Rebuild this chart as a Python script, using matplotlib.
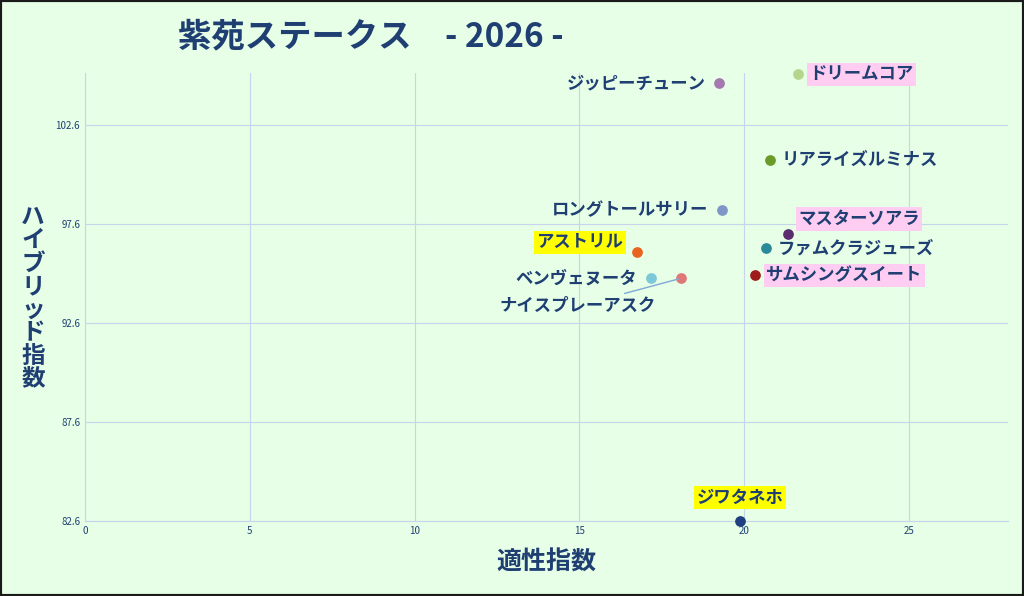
import matplotlib
matplotlib.use("Agg")
import matplotlib.pyplot as plt

plt.rcParams['font.family'] = ['Noto Sans CJK JP', 'DejaVu Sans']

names = ["ジッピーチューン","ドリームコア","リアライズルミナス","ロングトールサリー","マスターソアラ",
         "ファムクラジューズ","アストリル","サムシングスイート","ベンヴェヌータ","ナイスプレーアスク","ジワタネホ"]
xs = [19.24,21.64,20.79,19.33,21.34,20.67,16.75,20.33,17.17,18.09,19.88]
ys = [104.72,105.18,100.83,98.31,97.09,96.39,96.19,95.02,94.87,94.87,82.6]
colors = ["#a678b0","#b5d68a","#6a9a2a","#7f96c8","#5b2d6e","#2a8a9a","#e8641e","#9e1c1c","#7cc8d8","#e07878","#1f3f80"]
highlight = [None,"#ffccf2",None,None,"#ffccf2",None,"#ffff00","#ffccf2",None,None,"#ffff00"]
side = ["L","R","R","L","RU","R","LU","R","L","B","T"]

fig = plt.figure(figsize=(10.24,5.96), dpi=100, facecolor="#e6ffe6")
fig.patches.append(plt.Rectangle((0,0),1,1,transform=fig.transFigure,fill=False,ec="#1a1a1a",lw=3))
ax = fig.add_axes([85/1024, 1-521/596, (1008-85)/1024, (521-73)/596])
ax.set_facecolor("#e6ffe6")
ax.set_xlim(0,28)
ax.set_ylim(82.6,105.24)
ax.set_xticks([0,5,10,15,20,25])
ax.set_yticks([82.6,87.6,92.6,97.6,102.6])
ax.set_yticklabels(["82.6","87.6","92.6","97.6","102.6"])
ax.grid(color="#c8d4ee", lw=0.8)
for s in ax.spines.values(): s.set_visible(False)
ax.spines['left'].set_visible(True); ax.spines['left'].set_color("#c8d4ee")
ax.spines['bottom'].set_visible(True); ax.spines['bottom'].set_color("#c8d4ee")
ax.tick_params(length=0, labelsize=7, colors="#1f3f73")
ax.set_axisbelow(True)

tc = "#1f3f73"
for n,x,y,c,h,sd in zip(names,xs,ys,colors,highlight,side):
    ax.scatter(x,y,s=45,color=c,zorder=3,clip_on=False)
    bbox = dict(boxstyle="square,pad=0.15",fc=h,ec="none") if h else None
    kw = dict(fontsize=12.5,color=tc,fontweight="bold",bbox=bbox,va="center")
    if sd=="L":
        ax.annotate(n,(x,y),xytext=(-10,0),textcoords="offset points",ha="right",**kw)
    elif sd=="LU":
        ax.annotate(n,(x,y),xytext=(-10,7),textcoords="offset points",ha="right",**kw)
    elif sd=="R":
        ax.annotate(n,(x,y),xytext=(8,0),textcoords="offset points",ha="left",**kw)
    elif sd=="RU":
        ax.annotate(n,(x,y),xytext=(7,11),textcoords="offset points",ha="left",**kw)
    elif sd=="T":
        ax.annotate(n,(x,y),xytext=(0,17),textcoords="offset points",ha="center",**kw)
    else:
        ax.annotate(n,(x,y),xytext=(-18,-20),textcoords="offset points",ha="right",
                    arrowprops=dict(arrowstyle="-",color="#7fa8d8",lw=1),**kw)

fig.text(178/1024,1-37/596,"紫苑ステークス　- 2026 -",ha="left",va="center",fontsize=24,fontweight="bold",color=tc)
fig.text(546/1024,1-563/596,"適性指数",ha="center",va="center",fontsize=18,fontweight="bold",color=tc)
fig.text(33/1024,1-298/596,"\n".join("ハイブリッド指数"),ha="center",va="center",fontsize=17,
         fontweight="bold",color=tc,linespacing=0.95)
fig.savefig("out.png",dpi=100,facecolor=fig.get_facecolor())
